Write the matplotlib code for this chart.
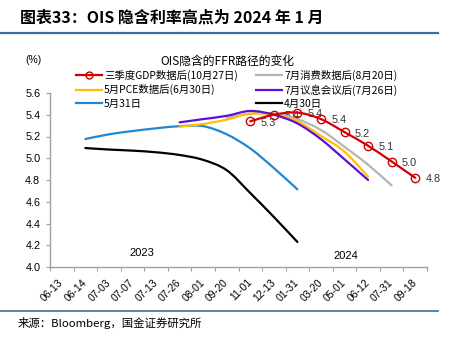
import numpy as np
import matplotlib.pyplot as plt
import matplotlib.transforms as mtransforms
from matplotlib.path import Path
from matplotlib.patches import PathPatch
from matplotlib.lines import Line2D

plt.rcParams['font.family'] = ['Liberation Sans', 'Noto Sans CJK SC', 'DejaVu Sans']
CJK = ['Noto Sans CJK SC', 'DejaVu Sans']

# 横轴：FOMC 等日期
dates = ['06-13', '06-14', '07-03', '07-07', '07-13', '07-26', '08-01', '09-20',
         '11-01', '12-13', '01-31', '03-20', '05-01', '06-12', '07-31', '09-18']

# 各时点 OIS 隐含利率 (%)，(起始类别序号, 数值)
gdp_start = 8
gdp_q3 = [5.34, 5.40, 5.42, 5.36, 5.24, 5.115, 4.97, 4.82]
cpi_start = 7
cpi_jul = [5.37, 5.41, 5.41, 5.36, 5.26, 5.105, 4.94, 4.75]
pce_start = 5
pce_may = [5.29, 5.315, 5.355, 5.41, 5.40, 5.34, 5.205, 5.06, 4.83]
fomc_start = 5
fomc_jul = [5.33, 5.36, 5.39, 5.435, 5.40, 5.32, 5.175, 4.99, 4.80]
may31_start = 1
may31 = [5.177, 5.22, 5.25, 5.275, 5.295, 5.295, 5.22, 5.09, 4.91, 4.714]
apr30_start = 1
apr30 = [5.094, 5.08, 5.07, 5.055, 5.03, 4.985, 4.89, 4.68, 4.46, 4.23]

gdp_labels = ['5.3', '5.4', '5.4', '5.4', '5.2', '5.1', '5.0', '4.8']


def smooth_path(xs, ys):
    # Excel 式平滑曲线 (三次贝塞尔)
    pts = np.column_stack([xs, ys])
    n = len(pts)
    verts = [pts[0]]
    codes = [Path.MOVETO]
    for i in range(n - 1):
        p0 = pts[max(i - 1, 0)]
        p1 = pts[i]
        p2 = pts[i + 1]
        p3 = pts[min(i + 2, n - 1)]
        c1 = p1 + (p2 - p0) / 6
        c2 = p2 - (p3 - p1) / 6
        verts += [c1, c2, p2]
        codes += [Path.CURVE4] * 3
    return Path(verts, codes)


fig = plt.figure(figsize=(4.6, 3.42), dpi=100)
ax = fig.add_axes([50 / 460, 75 / 342, 377 / 460, 174 / 342])

series = [
    (apr30_start, apr30, 'black', '4月30日'),
    (may31_start, may31, '#1E88D6', '5月31日'),
    (cpi_start, cpi_jul, '#B4B4B4', '7月消费数据后(8月20日)'),
    (pce_start, pce_may, '#FFC000', '5月PCE数据后(6月30日)'),
    (fomc_start, fomc_jul, '#5B0FD8', '7月议息会议后(7月26日)'),
    (gdp_start, gdp_q3, '#D00000', '三季度GDP数据后(10月27日)'),
]

handles = {}
for start, vals, color, label in series:
    xs = np.arange(start, start + len(vals)) + 0.5
    ax.add_patch(PathPatch(smooth_path(xs, vals), fill=False, edgecolor=color,
                           lw=1.6, capstyle='round', zorder=3))
    if label.startswith('三季度'):
        ax.plot(xs, vals, ls='none', marker='o', ms=6, mfc='none', mec=color,
                mew=1.0, zorder=4)
        for x, v, t in zip(xs, vals, gdp_labels):
            ax.annotate(t, (x, v), xytext=(7.5, -1), textcoords='offset points',
                        ha='left', va='center', fontsize=7.8, color='#333333',
                        zorder=2)
        handles[label] = Line2D([], [], color=color, lw=1.6, marker='o', ms=5,
                                mfc='none', mec=color, mew=1.0)
    else:
        handles[label] = Line2D([], [], color=color, lw=1.6)

ax.set_xlim(0, len(dates))
ax.set_ylim(4.0, 5.6)
ax.set_yticks(np.arange(4.0, 5.61, 0.2))
ax.set_yticklabels([f'{v:.1f}' for v in np.arange(4.0, 5.61, 0.2)])
ax.set_xticks(np.arange(len(dates) + 1))
ax.set_xticklabels([])
ax.set_xticks(np.arange(len(dates)) + 0.5, minor=True)
ax.set_xticklabels(dates, minor=True, rotation=45, ha='right', va='center',
                   rotation_mode='anchor')
shift = mtransforms.ScaledTranslation(4 / 100, 0, fig.dpi_scale_trans)
for lab in ax.get_xticklabels(minor=True):
    lab.set_transform(lab.get_transform() + shift)
ax.tick_params(axis='x', which='minor', length=0, pad=10, labelsize=7.5)
ax.tick_params(axis='x', which='major', length=3, direction='out', color='#A0A0A0')
ax.tick_params(axis='y', length=3, direction='out', color='#A0A0A0', labelsize=7.8,
               pad=4)
for s in ['top', 'right']:
    ax.spines[s].set_visible(False)
for s in ['left', 'bottom']:
    ax.spines[s].set_color('#A0A0A0')
    ax.spines[s].set_linewidth(1.0)

ax.text(3.89, 4.133, '2023', ha='center', va='center', fontsize=8)
ax.text(12.56, 4.097, '2024', ha='center', va='center', fontsize=8)

# 图例分两列放置
col1 = ['三季度GDP数据后(10月27日)', '5月PCE数据后(6月30日)', '5月31日']
col2 = ['7月消费数据后(8月20日)', '7月议息会议后(7月26日)', '4月30日']
for names, x0 in [(col1, 76 / 460), (col2, 256 / 460)]:
    leg = fig.legend([handles[n] for n in names], names, loc='upper left',
                     bbox_to_anchor=(x0, 1 - 70 / 342), frameon=False,
                     borderpad=0, borderaxespad=0, handlelength=2.5,
                     handletextpad=0.2, labelspacing=0.3,
                     prop={'family': CJK, 'size': 7.5})

fig.text(33 / 460, 1 - 60 / 342, '(%)', ha='center', va='center', fontsize=7.5)
fig.text(227 / 460, 1 - 61 / 342, 'OIS隐含的FFR路径的变化', ha='center',
         va='center', fontsize=8.5, family=CJK)

fig.text(20 / 460, 1 - 18 / 342, '图表33：OIS 隐含利率高点为 2024 年 1 月',
         ha='left', va='center', fontsize=11.5, fontweight='bold', family=CJK)
fig.text(18 / 460, 1 - 323 / 342, '来源：Bloomberg，国金证券研究所', ha='left',
         va='center', fontsize=8.2, family=CJK)
fig.add_artist(Line2D([0, 438 / 460], [1 - 33 / 342] * 2, color='#3B6F99', lw=1.6))
fig.add_artist(Line2D([0, 438 / 460], [1 - 311 / 342] * 2, color='#3B6F99', lw=1.2))

fig.savefig('out.png', dpi=100)
